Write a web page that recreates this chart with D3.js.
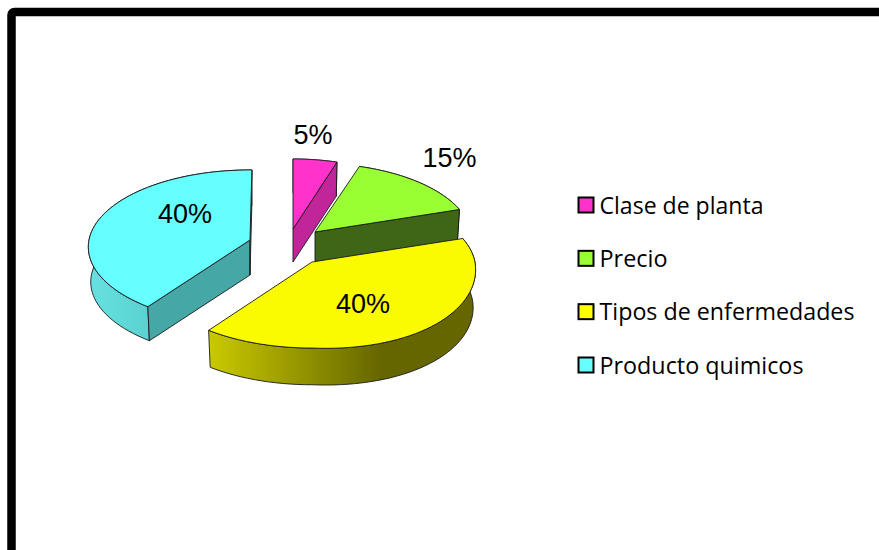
<!DOCTYPE html>
<html><head><meta charset="utf-8">
<style>html,body{margin:0;padding:0;background:#fff;overflow:hidden}svg{display:block}</style>
<script src="https://cdn.jsdelivr.net/npm/d3@7/dist/d3.min.js"></script>
</head><body>
<svg id="c" width="879" height="550"></svg>
<script>
const categories = ["Clase de planta","Precio","Tipos de enfermedades","Producto quimicos"];
const values = [5,15,40,40];
const valueLabels = ["5%","15%","40%","40%"];
const topColors = ["#FF33CC","#99FF33","#FBFB00","#66FFFF"];
const cutColors = ["#C0269A","#3F6516","#666600","#46A7A7"];

// layout
const apex = [[293,229],[315,232],[312,262],[250,240]];
const scaleXY = [[0.96,1],[0.97,0.98],[1.012,1.024],[1,1]];
const endNudge = [0,0,0,0.0125];
const bulge = [0,0,0.04,0];
const labelPos = [[313,144],[449.5,167],[363,313],[185,223]];
const RX=161, RY=76.4, K=0.0909, DEPTH=[33,33,38,35], SHRINK=0.985;

const svg=d3.select("#c");
svg.append("rect").attr("width",879).attr("height",550).attr("fill","#fff");
svg.append("rect").attr("x",11.5).attr("y",12).attr("width",950).attr("height",620).attr("rx",3)
  .attr("fill","none").attr("stroke","#000").attr("stroke-width",8.5);

const defs=svg.append("defs");
function grad(id,x1,x2,stops){
  const g=defs.append("linearGradient").attr("id",id).attr("gradientUnits","userSpaceOnUse")
    .attr("x1",x1).attr("x2",x2).attr("y1",0).attr("y2",0);
  stops.forEach(s=>g.append("stop").attr("offset",s[0]).attr("stop-color",s[1]));
}
grad("rimY",210,380,[[0,"#C9C900"],[1,"#666600"]]);
grad("rimC",90,205,[[0,"#66E0E0"],[1,"#50C4C4"]]);
const rimFill=[cutColors[0],cutColors[1],"url(#rimY)","url(#rimC)"];

const pie=d3.pie().sort(null).value(d=>d);
const arcs=pie(values);
const line=d3.line().curve(d3.curveLinearClosed);

function P(i,th,bottom){
  const u=Math.cos(th),v=Math.sin(th),den=1-K*v;
  let x=RX*scaleXY[i][0]*u/den,y=RY*scaleXY[i][1]*v/den;
  if(x>0&&v>0) y+=bulge[i]*x*v;
  if(bottom){x*=SHRINK;y=y*SHRINK+DEPTH[i];}
  return [apex[i][0]+x,apex[i][1]+y];
}
function C(i,bottom){return [apex[i][0],apex[i][1]+(bottom?DEPTH[i]:0)];}
function arcPts(i,a,b,bottom){
  return d3.range(0,61).map(k=>P(i,a+(b-a)*k/60,bottom));
}
const order=[3,0,1,2];
const sk={stroke:"#1a1a1a","stroke-width":0.9,"stroke-linejoin":"round"};
function face(pts,fill){
  const p=svg.append("path").attr("d",line(pts)).attr("fill",fill);
  Object.entries(sk).forEach(([k,v])=>p.attr(k,v));
}
order.forEach(i=>{
  const a=arcs[i].startAngle-Math.PI/2,b=arcs[i].endAngle-Math.PI/2+endNudge[i];
  face(arcPts(i,a,b,false).concat(arcPts(i,a,b,true).reverse()),rimFill[i]);
  if(-Math.cos(a)>0.001) face([C(i,false),P(i,a,false),P(i,a,true),C(i,true)],cutColors[i]);
  if(Math.cos(b)>0.001) face([C(i,false),P(i,b,false),P(i,b,true),C(i,true)],cutColors[i]);
  face([C(i,false)].concat(arcPts(i,a,b,false)),topColors[i]);
});

svg.append("g").selectAll("text").data(valueLabels).join("text")
  .attr("x",(d,i)=>labelPos[i][0]).attr("y",(d,i)=>labelPos[i][1])
  .attr("text-anchor","middle").attr("font-family","Liberation Sans, Arial, sans-serif")
  .attr("font-size",27).attr("fill","#000").text(d=>d);

const ly=d3.scalePoint().domain(categories).range([205,365]);
const lg=svg.append("g").selectAll("g").data(categories).join("g")
  .attr("transform",d=>`translate(0,${ly(d)})`);
lg.append("rect").attr("x",578.5).attr("y",-7.5).attr("width",15).attr("height",15)
  .attr("fill",(d,i)=>topColors[i]==="#FBFB00"?"#FFFF00":topColors[i]).attr("stroke","#000").attr("stroke-width",2);
lg.append("text").attr("x",599.5).attr("y",8.5)
  .attr("font-family","Open Sans, sans-serif").attr("font-size",23).attr("fill","#000")
  .attr("textLength",(d,i)=>[164,68,255,204][i]).attr("lengthAdjust","spacingAndGlyphs").text(d=>d);
</script>
</body></html>
